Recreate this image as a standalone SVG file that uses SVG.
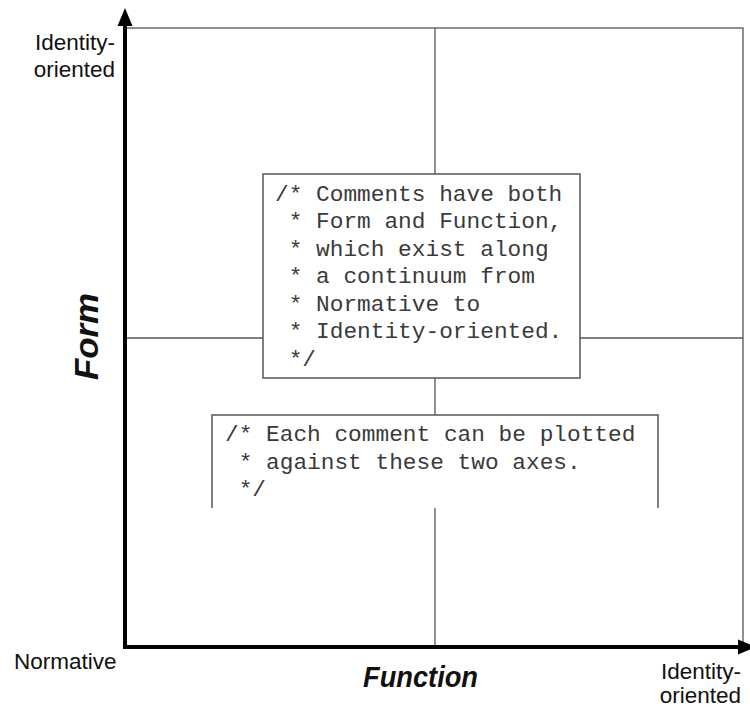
<svg xmlns="http://www.w3.org/2000/svg" width="750" height="707" viewBox="0 0 750 707">
<style>
.grid{fill:none;stroke:#555;stroke-width:1.3}
.axis{stroke:#000;stroke-width:4;fill:none}
.box{fill:#fff;stroke:#555;stroke-width:1.5}
.code{font-family:"Liberation Mono","Courier New",monospace;font-size:22.8px;fill:#3a3a3a}
.lbl{font-family:"Liberation Sans",Arial,sans-serif;font-size:22.5px;fill:#111}
.title{font-family:"Liberation Sans",Arial,sans-serif;font-weight:bold;font-style:italic;fill:#111}
</style>
<rect width="750" height="707" fill="#fff"/>
<g id="connectors">
<rect class="grid" x="125" y="28" width="618" height="619"/>
<line class="grid" x1="435" y1="28" x2="435" y2="647"/>
<line class="grid" x1="125" y1="338" x2="743" y2="338"/>
<line class="axis" x1="125" y1="649" x2="125" y2="22"/>
<polygon points="125,8 117.5,26 132.5,26" fill="#000"/>
<line class="axis" x1="123" y1="647" x2="740" y2="647"/>
<polygon points="756,647 738,639.5 738,654.5" fill="#000"/>
</g>
<g id="box1">
<rect class="box" x="263" y="174" width="317" height="204"/>
<text class="code" xml:space="preserve"><tspan x="275" y="200.5">/* Comments have both</tspan><tspan x="275" y="228"> * Form and Function,</tspan><tspan x="275" y="255.5"> * which exist along</tspan><tspan x="275" y="283"> * a continuum from</tspan><tspan x="275" y="310.5"> * Normative to</tspan><tspan x="275" y="338"> * Identity-oriented.</tspan><tspan x="275" y="365.5"> */</tspan></text>
</g>
<g id="box2">
<rect x="212" y="415" width="446" height="93" fill="#fff"/>
<polyline class="box" fill="none" points="212,508 212,415 658,415 658,508"/>
<text class="code" xml:space="preserve"><tspan x="225" y="441">/* Each comment can be plotted</tspan><tspan x="225" y="468.5"> * against these two axes.</tspan><tspan x="225" y="496"> */</tspan></text>
</g>
<g id="labels">
<text class="lbl" text-anchor="end"><tspan x="115" y="50">Identity-</tspan><tspan x="115" y="77">oriented</tspan></text>
<text class="lbl" x="14" y="669">Normative</text>
<text class="lbl" text-anchor="end"><tspan x="741" y="679">Identity-</tspan><tspan x="741" y="703">oriented</tspan></text>
<text class="title" x="363" y="687" font-size="30" textLength="115" lengthAdjust="spacingAndGlyphs">Function</text>
<text class="title" font-size="33" transform="translate(98,380) rotate(-90)" x="0" y="0" textLength="87" lengthAdjust="spacingAndGlyphs">Form</text>
</g>
</svg>
